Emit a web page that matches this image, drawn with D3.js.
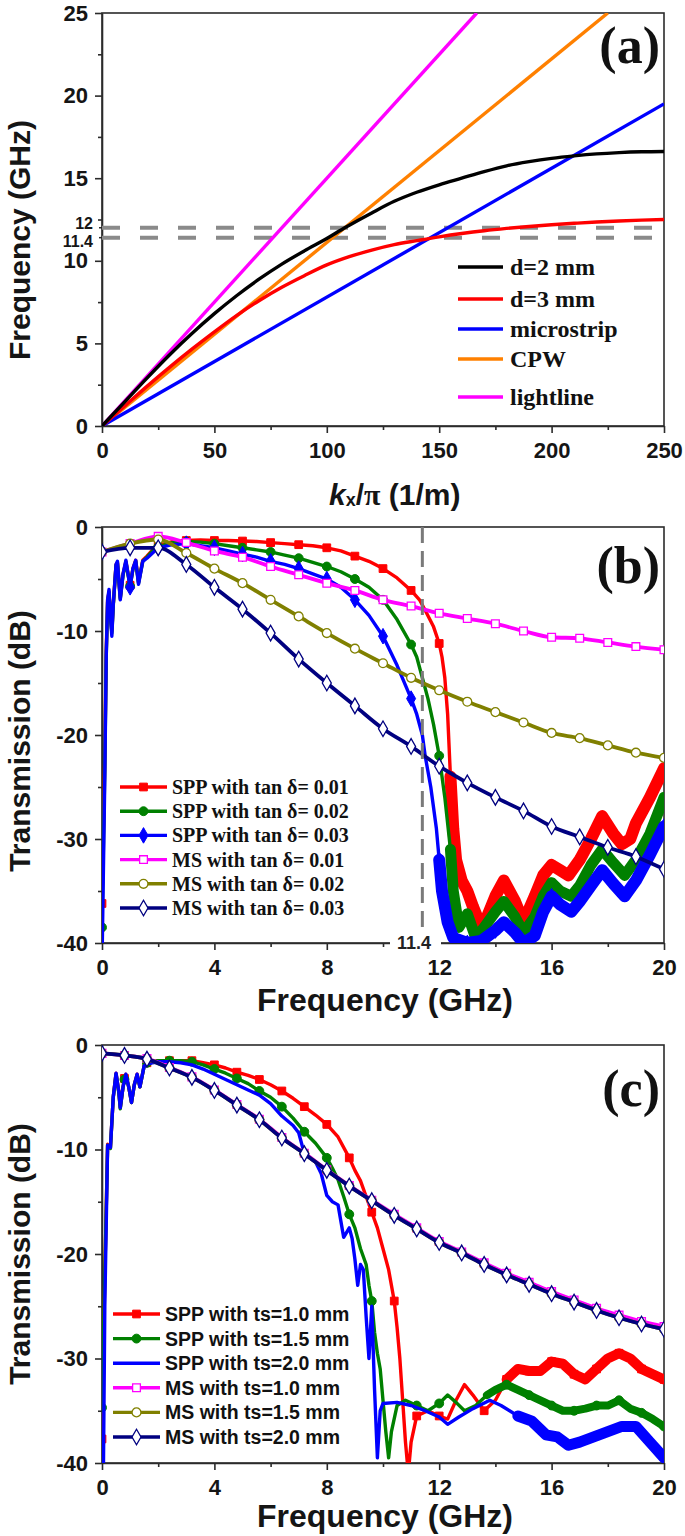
<!DOCTYPE html>
<html><head><meta charset="utf-8">
<script src="https://cdn.jsdelivr.net/npm/d3@7"></script>
<style>body{margin:0;background:#fff}</style>
</head><body><svg id="c" width="685" height="1536"></svg>
<script>
// ================= DATA =================
// Panel (a): dispersion, x = kx/pi (1/m), y = frequency (GHz)
const aXTicks = [0, 50, 100, 150, 200, 250];
const aYTicks = [0, 5, 10, 15, 20, 25];
const aDashLevels = [12, 11.4];
const aD2mm = [[0,0],[10,1.45],[20,2.9],[30,4.3],[40,5.6],[50,6.8],[60,7.9],[70,8.9],[80,9.8],[90,10.6],[100,11.35],[108,12.0],[120,12.9],[130,13.6],[140,14.15],[150,14.6],[160,15.0],[170,15.4],[180,15.75],[190,16.0],[200,16.2],[210,16.35],[220,16.47],[230,16.55],[240,16.6],[250,16.62]];
const aD3mm = [[0,0],[10,1.2],[20,2.4],[30,3.55],[40,4.65],[50,5.7],[60,6.7],[70,7.6],[80,8.4],[90,9.1],[100,9.75],[110,10.25],[120,10.65],[130,10.98],[140,11.22],[150,11.45],[160,11.65],[170,11.82],[180,11.96],[190,12.08],[200,12.18],[210,12.27],[220,12.35],[230,12.41],[240,12.46],[250,12.5]];
const aMicrostrip = [[0,0],[250,19.5]];
const aCPW = [[0,0],[225,25]];
const aLightline = [[0,0],[166.7,25]];
const aNames = ["d=2 mm","d=3 mm","microstrip","CPW","lightline"];

// Panel (b): transmission vs frequency, loss tangent
const bXTicks = [0,4,8,12,16,20];
const bYTicks = [0,-10,-20,-30,-40];
const bCutoff = 11.4;
const bSpp1 = [[0,-36.2],[0.1,-22],[0.15,-12],[0.2,-7],[0.25,-6.2],[0.3,-8.5],[0.35,-10],[0.4,-7.5],[0.5,-3.6],[0.55,-3.4],[0.65,-6.8],[0.75,-4.5],[0.85,-3.3],[1,-5.6],[1.1,-4],[1.2,-3.2],[1.3,-5.3],[1.45,-3.2],[1.6,-2.8],[1.8,-2.2],[2,-1.8],[2.5,-1.4],[3,-1.3],[3.5,-1.25],[4,-1.3],[4.5,-1.3],[5,-1.35],[5.5,-1.4],[6,-1.5],[6.5,-1.6],[7,-1.7],[7.5,-1.8],[8,-2.0],[8.5,-2.3],[9,-2.8],[9.5,-3.3],[10,-4.0],[10.5,-4.9],[11,-6.1],[11.3,-7.0],[11.5,-8.0],[11.8,-9.6],[12,-11.2],[12.1,-12.5],[12.2,-14.5],[12.3,-18],[12.4,-24],[12.5,-29],[12.6,-32],[12.8,-34],[13,-35],[13.2,-36.5],[13.5,-38.5],[13.7,-37.5],[14,-35.5],[14.3,-34],[14.7,-36],[15,-38],[15.4,-35.5],[15.7,-33.5],[16,-32.5],[16.3,-33],[16.6,-33.5],[17,-32],[17.4,-30],[17.8,-27.8],[18.2,-29.5],[18.5,-30.5],[18.8,-30],[19,-28.5],[19.5,-26],[20,-23.2]];
const bSpp2 = [[0,-38.5],[0.1,-23],[0.15,-12.5],[0.2,-7.2],[0.25,-6.3],[0.3,-8.6],[0.35,-10.2],[0.4,-7.6],[0.5,-3.7],[0.55,-3.5],[0.65,-6.9],[0.75,-4.6],[0.85,-3.4],[1,-5.7],[1.1,-4.1],[1.2,-3.3],[1.3,-5.4],[1.45,-3.3],[1.6,-2.9],[1.8,-2.3],[2,-1.9],[2.5,-1.5],[3,-1.4],[3.5,-1.45],[4,-1.6],[4.5,-1.8],[5,-2.0],[5.5,-2.2],[6,-2.4],[6.5,-2.7],[7,-3.0],[7.5,-3.4],[8,-3.8],[8.5,-4.3],[9,-5.0],[9.5,-5.8],[10,-7.0],[10.5,-8.9],[11,-11.3],[11.2,-12.5],[11.4,-14.5],[11.6,-16.5],[11.8,-19],[12,-22],[12.2,-26],[12.4,-31],[12.5,-35],[12.7,-38.5],[13,-37.2],[13.3,-39.5],[13.6,-38.5],[14,-37],[14.3,-36],[14.7,-37.5],[15,-39],[15.4,-37.5],[15.7,-35.5],[16,-34.2],[16.3,-35],[16.7,-35.5],[17,-34.5],[17.4,-32.5],[17.8,-31],[18.2,-32.3],[18.6,-33.5],[19,-32],[19.5,-29.5],[20,-26]];
const bSpp3 = [[0,-42],[0.1,-24],[0.15,-12.5],[0.2,-7],[0.25,-6],[0.3,-8.5],[0.35,-10.5],[0.4,-7.5],[0.5,-3.6],[0.55,-3.3],[0.65,-7],[0.75,-4.5],[0.85,-3.2],[1,-5.8],[1.1,-4],[1.2,-3.2],[1.3,-5.5],[1.45,-3.3],[1.6,-3.0],[1.8,-2.5],[2,-2.0],[2.5,-1.7],[3,-1.6],[3.5,-1.8],[4,-2.0],[4.5,-2.3],[5,-2.6],[5.5,-2.9],[6,-3.3],[6.5,-3.6],[7,-4.0],[7.5,-4.5],[8,-5.0],[8.5,-5.8],[9,-7.0],[9.5,-8.5],[10,-10.5],[10.5,-13.3],[11,-16.5],[11.2,-18],[11.4,-20],[11.5,-22],[11.7,-25],[11.9,-29],[12,-32],[12.1,-35],[12.3,-38],[12.5,-39.5],[13,-40],[13.5,-39.8],[14,-38.8],[14.3,-38],[14.7,-39],[15,-40],[15.4,-39.3],[15.7,-37],[16,-35.5],[16.3,-36.3],[16.7,-37],[17,-36],[17.4,-34.5],[17.8,-33],[18.2,-34.3],[18.6,-35.5],[19,-34],[19.5,-31.5],[20,-28.8]];
const bMs1 = [[0,-2.4],[1,-1.6],[2,-0.9],[3,-1.5],[4,-2.3],[5,-2.9],[6,-3.8],[7,-4.6],[8,-5.4],[9,-6.1],[10,-7.0],[11,-7.6],[12,-8.3],[13,-8.8],[14,-9.3],[15,-10.0],[16,-10.6],[17,-10.7],[18,-11.1],[19,-11.5],[20,-11.8]];
const bMs2 = [[0,-2.4],[1,-1.6],[2,-1.2],[3,-2.5],[4,-4.0],[5,-5.4],[6,-7.0],[7,-8.6],[8,-10.2],[9,-11.7],[10,-13.1],[11,-14.5],[12,-15.7],[13,-16.8],[14,-17.8],[15,-18.8],[16,-19.8],[17,-20.3],[18,-21.0],[19,-21.7],[20,-22.2]];
const bMs3 = [[0,-2.4],[1,-2.0],[2,-2.0],[3,-3.6],[4,-5.8],[5,-7.9],[6,-10.2],[7,-12.7],[8,-15.0],[9,-17.2],[10,-19.4],[11,-21.1],[12,-23.0],[13,-24.6],[14,-26.0],[15,-27.3],[16,-28.8],[17,-29.8],[18,-30.8],[19,-31.7],[20,-32.9]];
const bNames = ["SPP with tan \u03b4= 0.01","SPP with tan \u03b4= 0.02","SPP with tan \u03b4= 0.03","MS with tan \u03b4= 0.01","MS with tan \u03b4= 0.02","MS with tan \u03b4= 0.03"];

// Panel (c): transmission vs frequency, strip thickness
const cXTicks = [0,4,8,12,16,20];
const cYTicks = [0,-10,-20,-30,-40];
const cSpp1 = [[0,-37.7],[0.1,-22],[0.2,-9.5],[0.3,-9.8],[0.4,-5],[0.5,-2.7],[0.6,-4.5],[0.65,-6],[0.75,-4],[0.8,-3.2],[0.85,-2.8],[0.95,-4],[1.05,-5.5],[1.15,-3.8],[1.25,-2.8],[1.35,-4],[1.5,-2],[1.6,-1.7],[2,-1.5],[2.4,-1.5],[2.8,-1.5],[3.2,-1.5],[3.6,-1.7],[4,-1.9],[4.4,-2.2],[4.8,-2.6],[5.2,-2.9],[5.6,-3.3],[6,-3.8],[6.4,-4.4],[6.8,-5.1],[7.2,-5.9],[7.6,-6.7],[8,-7.6],[8.4,-8.8],[8.8,-10.8],[9,-12],[9.2,-13],[9.4,-14.5],[9.6,-16],[9.8,-17.5],[10,-19.5],[10.2,-21.5],[10.4,-24.5],[10.5,-27],[10.6,-30],[10.7,-34],[10.8,-38],[10.9,-41],[11,-38],[11.2,-35.5],[11.6,-35],[12,-35.5],[12.3,-35.8],[12.6,-34],[12.9,-32.5],[13.2,-33.5],[13.6,-35],[14,-34],[14.4,-32],[14.8,-31],[15.2,-31.2],[15.6,-31.2],[16,-30.3],[16.4,-30.5],[16.8,-31.5],[17.2,-32],[17.6,-31],[18,-30],[18.4,-29.5],[18.8,-30],[19.2,-31],[19.6,-31.5],[20,-32]];
const cSpp2 = [[0,-34.7],[0.1,-22],[0.2,-9.6],[0.3,-9.9],[0.4,-5],[0.5,-2.8],[0.6,-4.6],[0.65,-6.1],[0.75,-4],[0.8,-3.3],[0.85,-2.9],[0.95,-4],[1.05,-5.5],[1.15,-3.8],[1.25,-2.9],[1.35,-4],[1.5,-2],[1.6,-1.7],[2,-1.5],[2.4,-1.5],[2.8,-1.5],[3.2,-1.6],[3.6,-1.9],[4,-2.3],[4.4,-2.7],[4.8,-3.2],[5.2,-3.7],[5.6,-4.4],[6,-5.0],[6.4,-5.9],[6.8,-7.0],[7.2,-8.3],[7.6,-9.4],[8,-10.8],[8.2,-11.8],[8.4,-12.9],[8.6,-14.5],[8.8,-16.2],[9,-17.5],[9.2,-19.5],[9.4,-21],[9.5,-23],[9.6,-24.5],[9.7,-27.5],[9.8,-29.5],[9.9,-31],[10,-34],[10.1,-37],[10.2,-39.5],[10.3,-37],[10.5,-34.5],[10.8,-34],[11.2,-34.5],[11.6,-35],[12,-34.3],[12.3,-33.5],[12.6,-34.2],[12.9,-35],[13.3,-34.5],[13.7,-33.5],[14,-33],[14.4,-32.5],[14.8,-33],[15.2,-33.5],[15.6,-34],[16,-34.5],[16.4,-35],[16.8,-35],[17.2,-34.8],[17.6,-34.5],[18,-34.5],[18.4,-34],[18.8,-34.8],[19.2,-35.2],[19.6,-35.8],[20,-36.5]];
const cSpp3 = [[0.05,-41],[0.1,-25],[0.2,-9.6],[0.3,-9.8],[0.4,-5],[0.5,-2.7],[0.6,-4.5],[0.65,-6],[0.75,-4],[0.85,-2.8],[0.95,-4],[1.05,-5.5],[1.15,-3.8],[1.25,-2.8],[1.35,-4],[1.5,-2],[1.6,-1.8],[2,-1.6],[2.4,-1.6],[2.8,-1.7],[3.2,-1.9],[3.6,-2.3],[4,-2.8],[4.4,-3.3],[4.8,-3.8],[5.2,-4.3],[5.6,-4.8],[6,-5.6],[6.4,-6.8],[6.8,-7.7],[7,-8.4],[7.2,-10.4],[7.4,-10.8],[7.6,-11.2],[7.8,-12.3],[8,-14.4],[8.2,-15.0],[8.4,-15.3],[8.6,-18.4],[8.8,-17.5],[8.9,-18.5],[9,-20.5],[9.1,-23],[9.2,-21],[9.3,-21.5],[9.4,-26],[9.5,-30],[9.6,-25],[9.7,-33],[9.8,-39.5],[9.9,-35],[10,-34.3],[10.5,-34.2],[11,-34.5],[11.5,-35],[12,-35.6],[12.3,-36.3],[12.7,-35.6],[13.2,-34.8],[13.8,-34],[14.2,-34.5],[14.8,-35.5],[15.3,-36],[15.8,-37.3],[16.2,-37.5],[16.6,-38.3],[17,-38],[17.5,-37.5],[18,-37],[18.5,-36.5],[19,-36.5],[19.5,-38],[20,-39.5]];
const cMs3 = [[0,-0.8],[0.8,-1.0],[1.6,-1.35],[2.4,-2.2],[3.2,-3.1],[4,-4.35],[4.8,-5.75],[5.6,-7.15],[6.4,-8.9],[7.2,-10.4],[8,-12.0],[8.8,-13.5],[9.6,-14.9],[10.4,-16.3],[11.2,-17.6],[12,-18.9],[12.8,-19.9],[13.6,-21.0],[14.4,-22.0],[15.2,-22.9],[16,-23.8],[16.8,-24.6],[17.6,-25.4],[18.4,-26.1],[19.2,-26.7],[20,-27.2]];
const cMs2 = [[0,-0.8],[0.8,-1.0],[1.6,-1.35],[2.4,-2.2],[3.2,-3.1],[4,-4.35],[4.8,-5.75],[5.6,-7.15],[6.4,-8.9],[7.2,-10.4],[8,-12.0],[8.8,-13.5],[9.6,-14.9],[10.4,-16.3],[11.2,-17.6],[12,-18.9],[12.8,-19.9],[13.6,-21.0],[14.4,-22.0],[15.2,-22.9],[16,-23.8],[16.8,-24.6],[17.6,-25.4],[18.4,-26.1],[19.2,-26.7],[20,-27.2]];
const cMs1 = [[0,-0.8],[0.8,-1.0],[1.6,-1.3],[2.4,-2.15],[3.2,-3.05],[4,-4.3],[4.8,-5.7],[5.6,-7.1],[6.4,-8.85],[7.2,-10.35],[8,-11.95],[8.8,-13.45],[9.6,-14.85],[10.4,-16.2],[11.2,-17.5],[12,-18.8],[12.8,-19.8],[13.6,-20.85],[14.4,-21.85],[15.2,-22.7],[16,-23.6],[16.8,-24.4],[17.6,-25.2],[18.4,-25.85],[19.2,-26.45],[20,-26.95]];
const cNames = ["SPP with ts=1.0 mm","SPP with ts=1.5 mm","SPP with ts=2.0 mm","MS with ts=1.0 mm","MS with ts=1.5 mm","MS with ts=2.0 mm"];

// ================= DRAWING =================
const SANS = "'Liberation Sans', Arial, Helvetica, sans-serif";
const SERIF = "'Liberation Serif', 'Times New Roman', serif";
const AX = "#2b2b2b";
const svg = d3.select("#c");
const X0 = 102, X1 = 664;

function buildPanel(o) {
  const x = d3.scaleLinear().domain(o.xd).range([X0, X1]);
  const y = d3.scaleLinear().domain(o.yd).range([o.bottom, o.top]);
  const g = svg.append("g");
  const cid = "clip_" + o.name;
  svg.append("defs").append("clipPath").attr("id", cid)
    .append("rect").attr("x", X0).attr("y", o.top).attr("width", X1 - X0).attr("height", o.bottom - o.top);
  g.append("rect").attr("x", X0).attr("y", o.top).attr("width", X1 - X0).attr("height", o.bottom - o.top)
    .attr("fill", "none").attr("stroke", AX).attr("stroke-width", 1.6);
  g.append("g").attr("transform", `translate(0,${o.bottom})`)
    .call(d3.axisBottom(x).tickValues(o.xMinor).tickSize(4).tickFormat(""))
    .call(s => s.select(".domain").remove());
  g.append("g").attr("transform", `translate(${X0},0)`)
    .call(d3.axisLeft(y).tickValues(o.yMinor).tickSize(4).tickFormat(""))
    .call(s => s.select(".domain").remove());
  const xa = g.append("g").attr("transform", `translate(0,${o.bottom})`)
    .call(d3.axisBottom(x).tickValues(o.xTicks).tickSizeInner(7).tickSizeOuter(0).tickPadding(9).tickFormat(d => String(d)));
  const ya = g.append("g").attr("transform", `translate(${X0},0)`)
    .call(d3.axisLeft(y).tickValues(o.yTicks).tickSizeInner(7).tickSizeOuter(0).tickPadding(7).tickFormat(d => String(d)));
  g.selectAll(".domain, .tick line").attr("stroke", AX).attr("stroke-width", 1.6);
  [xa, ya].forEach(a => a.selectAll("text").attr("font-family", SANS).attr("font-weight", "bold")
    .attr("font-size", 22).attr("fill", "#151515"));
  const plot = g.append("g").attr("clip-path", `url(#${cid})`);
  return {g, plot, x, y};
}

function yTitle(text, cx, cy) {
  svg.append("text").attr("transform", `translate(${cx},${cy}) rotate(-90)`)
    .attr("text-anchor", "middle").attr("font-family", SANS).attr("font-weight", "bold")
    .attr("font-size", 30).attr("fill", "#151515").text(text);
}
function xTitle(text, cx, by) {
  svg.append("text").attr("x", cx).attr("y", by).attr("text-anchor", "middle")
    .attr("font-family", SANS).attr("font-weight", "bold").attr("font-size", 32).attr("fill", "#151515").text(text);
}
function panelLabel(text, rx, by) {
  svg.append("text").attr("x", rx).attr("y", by).attr("text-anchor", "end")
    .attr("font-family", SERIF).attr("font-weight", "bold").attr("font-size", 52).attr("fill", "#111").text(text);
}

// ---------- Panel (a) ----------
const A = buildPanel({name: "a", xd: [0, 250], yd: [0, 25], top: 13, bottom: 426,
  xTicks: aXTicks, yTicks: aYTicks, xMinor: [25, 75, 125, 175, 225], yMinor: [2.5, 7.5, 12.5, 17.5, 22.5]});
const aLine = d3.line().x(d => A.x(d[0])).y(d => A.y(d[1])).curve(d3.curveMonotoneX);
aDashLevels.forEach(v => {
  A.plot.append("line").attr("x1", A.x(0)).attr("x2", A.x(250)).attr("y1", A.y(v)).attr("y2", A.y(v))
    .attr("stroke", "#8a8a8a").attr("stroke-width", 4).attr("stroke-dasharray", "18,20");
});
const aSeries = [
  {d: aLightline, c: "#ff00ff"}, {d: aCPW, c: "#ff8000"}, {d: aMicrostrip, c: "#0000ff"},
  {d: aD3mm, c: "#ff0000"}, {d: aD2mm, c: "#000000"}];
aSeries.forEach(s => A.plot.append("path").datum(s.d).attr("d", aLine).attr("fill", "none")
  .attr("stroke", s.c).attr("stroke-width", 3.4));
[{v: 12, t: "12", dy: -4}, {v: 11.4, t: "11.4", dy: 4}].forEach(l => {
  svg.append("text").attr("x", 93).attr("y", A.y(l.v) + l.dy).attr("text-anchor", "end")
    .attr("dominant-baseline", "central").attr("font-family", SANS).attr("font-weight", "bold")
    .attr("font-size", 16).attr("fill", "#151515").text(l.t);
  svg.append("line").attr("x1", X0 - 3).attr("x2", X0).attr("y1", A.y(l.v)).attr("y2", A.y(l.v))
    .attr("stroke", AX).attr("stroke-width", 1.5);
});
const aLegColors = ["#000000", "#ff0000", "#0000ff", "#ff8000", "#ff00ff"];
const aLegY = [267, 299, 329, 359, 397];
aNames.forEach((n, i) => {
  svg.append("line").attr("x1", 458).attr("x2", 503).attr("y1", aLegY[i]).attr("y2", aLegY[i])
    .attr("stroke", aLegColors[i]).attr("stroke-width", 3.4);
  svg.append("text").attr("x", 510).attr("y", aLegY[i] + 8).attr("font-family", SERIF).attr("font-weight", "bold")
    .attr("font-size", 24).attr("fill", "#111").text(n);
});
panelLabel("(a)", 660, 63);
yTitle("Frequency (GHz)", 30, 240);
{
  const t = svg.append("text").attr("x", 329).attr("y", 505).attr("font-family", SANS)
    .attr("font-weight", "bold").attr("font-size", 30).attr("fill", "#151515");
  t.append("tspan").attr("font-style", "italic").text("k");
  t.append("tspan").attr("font-size", 18).attr("dy", 1).text("x");
  t.append("tspan").attr("dy", -1).text("/");
  t.append("tspan").attr("font-family", SERIF).text("\u03c0");
  t.append("tspan").text(" (1/m)");
}

// ---------- marker helpers ----------
const symSq = d3.symbol().type(d3.symbolSquare).size(60)();
const symCi = d3.symbol().type(d3.symbolCircle).size(62)();
const symDi = d3.symbol().type(d3.symbolDiamond).size(70)();

function drawSeries(P, s) {
  const line = d3.line().x(d => P.x(d[0])).y(d => P.y(d[1]));
  if (s.smooth) line.curve(d3.curveMonotoneX);
  P.plot.append("path").datum(s.d).attr("d", line).attr("fill", "none").attr("stroke", s.c)
    .attr("stroke-width", s.w || 3.4).attr("stroke-linejoin", "round");
  if (s.fuzzFrom !== undefined) {
    P.plot.append("path").datum(s.d.filter(d => d[0] >= s.fuzzFrom)).attr("d", line).attr("fill", "none")
      .attr("stroke", s.c).attr("stroke-width", s.fuzzW).attr("stroke-linejoin", "round").attr("stroke-linecap", "round");
  }
  if (s.sym) {
    const pts = s.d.filter(d => Math.abs(d[0] / s.step - Math.round(d[0] / s.step)) < 0.01);
    P.plot.selectAll(null).data(pts).enter().append("path").attr("d", s.sym)
      .attr("transform", d => `translate(${P.x(d[0])},${P.y(d[1])})`)
      .attr("fill", s.open ? "#fff" : s.c).attr("stroke", s.c).attr("stroke-width", s.open ? 1.3 : 1);
  }
}
function legendRow(x1, x2, xt, yy, s, name, font, size) {
  svg.append("line").attr("x1", x1).attr("x2", x2).attr("y1", yy).attr("y2", yy)
    .attr("stroke", s.c).attr("stroke-width", 3.4);
  if (s.sym) svg.append("path").attr("d", s.sym).attr("transform", `translate(${(x1 + x2) / 2},${yy})`)
    .attr("fill", s.open ? "#fff" : s.c).attr("stroke", s.c).attr("stroke-width", s.open ? 1.3 : 1);
  svg.append("text").attr("x", xt).attr("y", yy + 7).attr("font-family", font).attr("font-weight", "bold")
    .attr("font-size", size).attr("fill", "#111").text(name);
}

// ---------- Panel (b) ----------
const B = buildPanel({name: "b", xd: [0, 20], yd: [-40, 0], top: 527, bottom: 943,
  xTicks: bXTicks, yTicks: bYTicks, xMinor: [2, 6, 10, 14, 18], yMinor: [-5, -15, -25, -35]});
const bSeries = [
  {d: bSpp1, c: "#ff0000", sym: symSq, step: 1, fuzzFrom: 12.4, fuzzW: 12},
  {d: bSpp2, c: "#008000", sym: symCi, step: 1, fuzzFrom: 12.4, fuzzW: 11},
  {d: bSpp3, c: "#0000ff", sym: symDi, step: 1, fuzzFrom: 12.0, fuzzW: 12},
  {d: bMs1, c: "#ff00ff", sym: symSq, step: 1, open: true, smooth: true, w: 3.8},
  {d: bMs2, c: "#808000", sym: symCi, step: 1, open: true, smooth: true, w: 3.8},
  {d: bMs3, c: "#000080", sym: symDi, step: 1, open: true, smooth: true, w: 3.8}];
bSeries.forEach(s => drawSeries(B, s));
B.plot.append("line").attr("x1", B.x(bCutoff)).attr("x2", B.x(bCutoff)).attr("y1", B.y(0)).attr("y2", B.y(-38.8))
  .attr("stroke", "#7a7a7a").attr("stroke-width", 3).attr("stroke-dasharray", "16,8");
svg.append("rect").attr("x", 390).attr("y", 934).attr("width", 51).attr("height", 19).attr("fill", "#fff");
svg.append("text").attr("x", 414).attr("y", B.y(-40)).attr("text-anchor", "middle").attr("dominant-baseline", "central")
  .attr("font-family", SANS).attr("font-weight", "bold").attr("font-size", 18).attr("fill", "#222").text(String(bCutoff));
bNames.forEach((n, i) => legendRow(120, 167, 172, 787 + i * 24.2, bSeries[i], n, SERIF, 20));
panelLabel("(b)", 660, 583);
yTitle("Transmission (dB)", 30, 741);
xTitle("Frequency (GHz)", 385, 1011);

// ---------- Panel (c) ----------
const C = buildPanel({name: "c", xd: [0, 20], yd: [-40, 0], top: 1045, bottom: 1463,
  xTicks: cXTicks, yTicks: cYTicks, xMinor: [2, 6, 10, 14, 18], yMinor: [-5, -15, -25, -35]});
const cSeries = [
  {d: cSpp1, c: "#ff0000", sym: symSq, step: 0.8, fuzzFrom: 14.2, fuzzW: 10},
  {d: cSpp2, c: "#008000", sym: symCi, step: 0.8, fuzzFrom: 13.7, fuzzW: 8},
  {d: cSpp3, c: "#0000ff", fuzzFrom: 14.6, fuzzW: 11},
  {d: cMs1, c: "#ff00ff", sym: symSq, step: 0.8, open: true, smooth: true, w: 3.8},
  {d: cMs2, c: "#808000", sym: symCi, step: 0.8, open: true, smooth: true, w: 3.8},
  {d: cMs3, c: "#000080", sym: symDi, step: 0.8, open: true, smooth: true, w: 3.8}];
cSeries.forEach(s => drawSeries(C, s));
cNames.forEach((n, i) => legendRow(113, 160, 165, 1314 + i * 24.6, cSeries[i], n, SANS, 19.5));
panelLabel("(c)", 660, 1106);
yTitle("Transmission (dB)", 30, 1254);
xTitle("Frequency (GHz)", 385, 1527);
</script></body></html>
